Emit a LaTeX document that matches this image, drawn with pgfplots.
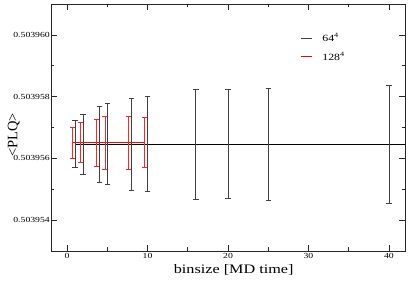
\documentclass[border=0pt]{standalone}
\usepackage{fontspec}
\setmainfont{Liberation Serif}[FakeStretch=1.25]
\newfontfamily\ylabfont{Liberation Serif}
\usepackage{pgfplots}
\usepackage{pgfplotstable}
\pgfplotsset{compat=1.18}
% y values are (<PLQ> - 0.503950) * 1e6, to avoid TeX precision loss
\pgfplotstableread{
x    y     e
1    6.46  0.76
2    6.46  0.97
4    6.46  1.24
5    6.46  1.31
8    6.46  1.48
10   6.46  1.54
16   6.46  1.78
20   6.46  1.77
25   6.46  1.82
40   6.46  1.91
}\blackdata
\pgfplotstableread{
x     y     e
0.7   6.51  0.51
1.7   6.51  0.65
3.6   6.51  0.76
4.7   6.51  0.85
7.6   6.51  0.86
9.65  6.51  0.81
}\reddata
\begin{document}
\begin{tikzpicture}
\begin{axis}[
  name=ax, scale only axis, width=354bp, height=247bp,
  xmin=-2, xmax=42, ymin=3, ymax=11,
  xtick={0,10,20,30,40}, minor x tick num=1,
  ytick={4,6,8,10}, yticklabels={0.503954,0.503956,0.503958,0.503960},
  minor y tick num=1,
  tick align=inside, major tick length=6bp, minor tick length=3.5bp,
  axis line style={line width=0.8bp, black!85},
  every tick/.style={line width=0.7bp, black!85},
  /pgf/number format/assume math mode=true,
  tick label style={font=\fontsize{7.8}{8}\selectfont},
  yticklabel style={inner sep=1bp},
  xticklabel style={inner sep=1bp, yshift=-1bp},
  every axis x label/.style={at={(rel axis cs:0.516,0)}, anchor=center, yshift=-19bp},
  every axis y label/.style={at={(rel axis cs:0,0.47)}, anchor=center, rotate=90, yshift=37.3bp},
  xlabel={\fontsize{13}{15}\selectfont binsize [MD time]},
  ylabel={\fontsize{14.5}{16}\selectfont\ylabfont <PLQ>},
  legend style={draw=none, fill=none, at={(rel axis cs:0.705,0.89)}, anchor=north west,
    font=\fontsize{9.5}{11}\selectfont, row sep=5bp, inner sep=0pt},
  legend cell align=left,
]
\addplot[black, line width=0.8bp, forget plot] coordinates {(40,6.46) (42,6.46)};
\addplot[black, line width=0.8bp, forget plot,
  error bars/.cd, y dir=both, y explicit,
  error bar style={line width=0.7bp, black!75},
  error mark options={rotate=90, line width=0.7bp, black!75, mark size=2.7bp}]
  table[x=x, y=y, y error=e] {\blackdata};
\addplot[red, line width=0.8bp, forget plot,
  error bars/.cd, y dir=both, y explicit,
  error bar style={line width=0.7bp, red!85},
  error mark options={rotate=90, line width=0.7bp, red!85, mark size=2.5bp}]
  table[x=x, y=y, y error=e] {\reddata};
\addlegendimage{legend image code/.code={\draw[black!75, line width=0.8bp] (0bp,0bp) -- (10.6bp,0bp); \path (19bp,0bp);}}
\addlegendentry{64\textsuperscript{4}}
\addlegendimage{legend image code/.code={\draw[red, line width=0.8bp] (0bp,0bp) -- (10.6bp,0bp); \path (19bp,0bp);}}
\addlegendentry{128\textsuperscript{4}}
\end{axis}
\pgfresetboundingbox
\path ([shift={(-51bp,-30bp)}]ax.south west) rectangle ([shift={(4bp,4bp)}]ax.north east);
\end{tikzpicture}
\end{document}
